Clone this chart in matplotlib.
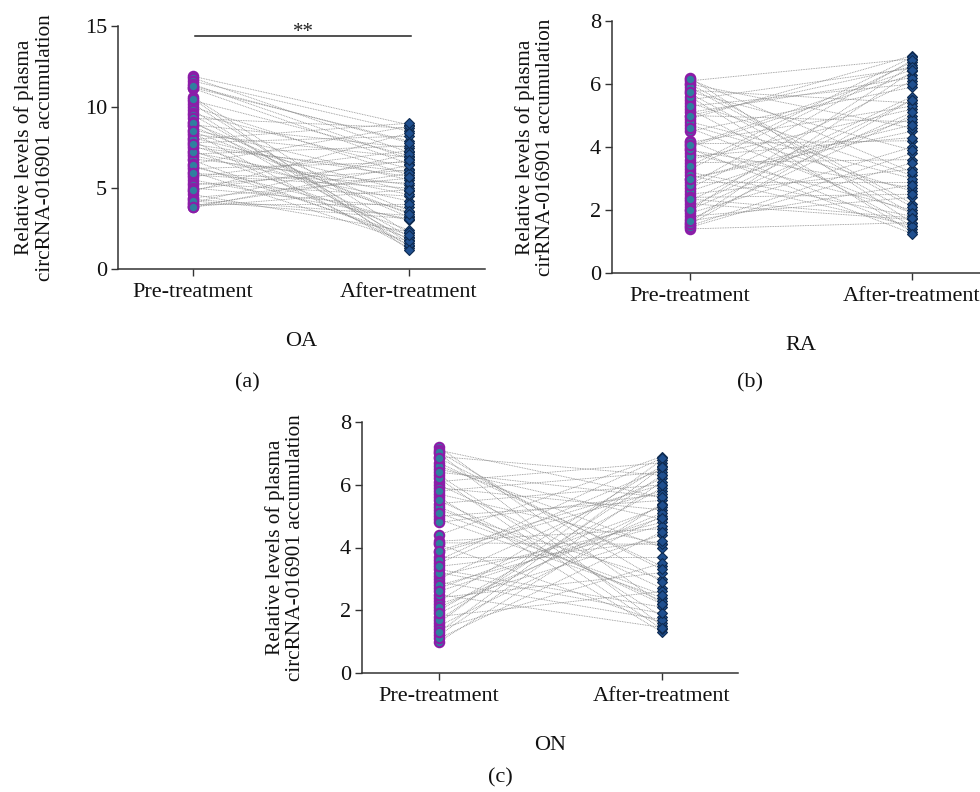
import numpy as np
import matplotlib
matplotlib.use("Agg")
import matplotlib.pyplot as plt

plt.rcParams['font.family'] = ['Liberation Serif', 'DejaVu Serif']

groups = ["Pre-treatment", "After-treatment"]

oa_pre = [11.9, 11.8, 11.6, 11.4, 11.2, 11.15, 10.6, 10.4, 10.2, 10.0, 9.8, 9.6, 9.5, 9.3, 9.1,
          8.9, 8.8, 8.6, 8.4, 8.3, 8.1, 7.9, 7.8, 7.6, 7.5, 7.3, 7.1, 7.0, 6.8, 6.7, 6.5, 6.3,
          6.2, 6.0, 5.8, 5.7, 5.5, 5.3, 5.2, 5.0, 4.8, 4.6, 4.4, 4.3, 4.1, 4.0, 3.9, 3.8, 10.5,
          9.0, 8.0, 7.2, 6.4, 5.9, 4.9, 4.2, 3.85, 11.3, 8.5, 7.7]
oa_after = [8.9, 7.2, 8.5, 6.8, 7.9, 6.5, 2.2, 7.0, 1.6, 5.8, 1.4, 6.2, 2.0, 8.7, 1.8, 7.5, 3.2,
            5.5, 1.3, 6.9, 4.8, 1.5, 8.2, 3.5, 6.0, 2.4, 7.6, 4.2, 5.2, 1.9, 8.8, 3.0, 6.6, 1.7,
            5.0, 7.3, 3.1, 4.5, 6.1, 3.8, 8.4, 2.3, 5.6, 3.3, 7.1, 4.0, 5.9, 6.4, 1.2, 3.6, 9.0,
            4.6, 2.1, 5.3, 6.7, 3.1, 4.9, 7.8, 3.4, 5.7]

ra_pre = [6.2, 6.1, 6.0, 5.8, 5.7, 5.5, 5.4, 5.2, 5.0, 4.9, 4.7, 4.5, 4.2, 4.1, 4.0, 3.8, 3.6,
          3.5, 3.3, 3.2, 3.0, 2.9, 2.7, 2.5, 2.3, 2.2, 2.0, 1.9, 1.8, 1.7, 1.6, 1.5, 1.4, 6.0,
          5.6, 5.1, 4.8, 4.15, 3.9, 3.4, 3.1, 2.6, 2.1, 1.45, 5.9, 5.3, 4.6, 3.7, 2.8, 2.4,
          1.55, 6.15, 5.0, 3.95, 3.0, 2.0, 1.65, 5.75, 4.05, 2.35]
ra_after = [1.6, 6.8, 2.2, 5.4, 1.9, 6.5, 3.1, 1.5, 4.8, 6.9, 2.6, 5.9, 1.4, 4.2, 6.3, 2.0, 5.2,
            3.6, 6.7, 1.8, 4.5, 2.9, 6.1, 3.3, 5.6, 1.7, 6.6, 4.0, 2.4, 5.0, 6.4, 3.8, 1.6, 4.6,
            1.3, 6.2, 3.0, 5.3, 2.7, 6.85, 1.5, 4.9, 5.5, 3.5, 2.1, 6.0, 1.9, 4.3, 6.75, 2.5,
            5.5, 3.2, 6.55, 1.25, 4.7, 5.1, 2.8, 3.9, 6.45, 1.75]

on_pre = [7.2, 7.1, 7.0, 6.9, 6.7, 6.5, 6.3, 6.1, 6.0, 5.9, 5.7, 5.6, 5.4, 5.2, 5.0, 4.9, 4.4,
          4.2, 4.1, 3.85, 3.7, 3.5, 3.3, 3.1, 3.0, 2.9, 2.7, 2.4, 2.3, 2.2, 2.0, 1.8, 1.6, 1.5,
          1.4, 1.2, 1.0, 7.05, 6.6, 6.2, 5.8, 5.3, 4.8, 4.15, 3.6, 3.2, 2.8, 2.1, 1.7, 1.1,
          6.85, 6.4, 5.5, 3.9, 3.4, 2.5, 1.9, 1.3, 5.1, 2.6]
on_after = [2.2, 5.6, 1.5, 6.3, 3.4, 4.9, 1.8, 6.7, 2.7, 5.2, 4.1, 1.3, 6.0, 3.0, 5.5, 2.4, 6.9,
            4.6, 1.6, 5.8, 3.7, 6.5, 2.1, 4.8, 6.2, 1.7, 5.3, 3.2, 6.6, 4.4, 5.9, 2.6, 6.8, 5.0,
            3.5, 6.1, 5.4, 2.9, 4.0, 1.4, 6.4, 2.3, 5.7, 4.1, 6.85, 1.9, 4.7, 5.1, 6.3, 4.5,
            3.3, 5.6, 2.2, 6.0, 4.2, 1.45, 5.35, 6.55, 2.5, 4.95]

panels = [
    dict(pre=oa_pre, after=oa_after, ylim=(0, 15), yticks=[0, 5, 10, 15], name="OA", tag="(a)",
         ylabel="Relative levels of plasma\ncircRNA-016901 accumulation",
         pos=[118/980, 1-269/792, (485-118)/980, (269-26)/792],
         xlim=(-0.347, 1.352), ylx=34.5, tagx=247, tagy=383),
    dict(pre=ra_pre, after=ra_after, ylim=(0, 8), yticks=[0, 2, 4, 6, 8], name="RA", tag="(b)",
         ylabel="Relative levels of plasma\ncirRNA-016901 accumulation",
         pos=[612/980, 1-273/792, (980-612)/980, (273-21)/792],
         xlim=(-0.351, 1.306), ylx=535, tagx=750, tagy=383),
    dict(pre=on_pre, after=on_after, ylim=(0, 8), yticks=[0, 2, 4, 6, 8], name="ON", tag="(c)",
         ylabel="Relative levels of plasma\ncircRNA-016901 accumulation",
         pos=[362/980, 1-673/792, (738-362)/980, (673-422)/792],
         xlim=(-0.345, 1.341), ylx=285, tagx=500, tagy=778),
]

fig = plt.figure(figsize=(9.8, 7.92), dpi=100)
spine_c = '#333333'
fs = 16

for p in panels:
    ax = fig.add_axes(p['pos'])
    pre = np.array(p['pre'])
    aft = np.array(p['after'])
    xs = np.array([0, 1])
    for a, b in zip(pre, aft):
        ax.plot(xs, [a, b], color='#8c8c8c', lw=0.6, ls=(0, (1, 1)), zorder=1)
    ax.plot(np.zeros_like(pre), pre, ls='none', marker='o', ms=6.8,
            mfc='#2f7f9f', mec='#8c1ca8', mew=1.5, zorder=3, clip_on=False)
    ax.plot(np.ones_like(aft), aft, ls='none', marker='D', ms=5.2,
            mfc='#1f4f8f', mec='#0e2a50', mew=0.8, zorder=3, clip_on=False)
    ax.set_xlim(*p['xlim'])
    ax.set_ylim(*p['ylim'])
    ax.set_yticks(p['yticks'])
    ax.set_xticks([0, 1])
    ax.set_xticklabels(groups)
    for s in ['top', 'right']:
        ax.spines[s].set_visible(False)
    for s in ['left', 'bottom']:
        ax.spines[s].set_color(spine_c)
        ax.spines[s].set_linewidth(1.1)
    ax.tick_params(axis='both', direction='out', length=5, width=1.0, color=spine_c,
                   labelsize=fs, labelcolor='#111111')
    ax.tick_params(axis='x', pad=5)
    ax.tick_params(axis='y', pad=3)
    y0 = p['pos'][1] + p['pos'][3] / 2
    fig.text(p['ylx']/980, y0, p['ylabel'], rotation=90, ha='center', va='center',
             fontsize=15.3, linespacing=1.12, color='#111111')
    ax_left = p['pos'][0] * 980
    base = p['pos'][1] * 792
    name_x = ax_left + (0.5 - p['xlim'][0]) / (p['xlim'][1] - p['xlim'][0]) * p['pos'][2] * 980
    fig.text(name_x / 980, (base - 73) / 792, p['name'], ha='center', va='center',
             fontsize=fs, color='#111111')
    fig.text(p['tagx']/980, 1 - p['tagy'] / 792, p['tag'], ha='center', va='center',
             fontsize=fs, color='#111111')
    if p['name'] == 'OA':
        ax.plot([0.01, 1.01], [14.38, 14.38], color='#222222', lw=1.1, clip_on=False)
        ax.text(0.51, 14.33, '**', ha='center', va='baseline', fontsize=15, color='#222222')

fig.savefig('out.png', dpi=100)
